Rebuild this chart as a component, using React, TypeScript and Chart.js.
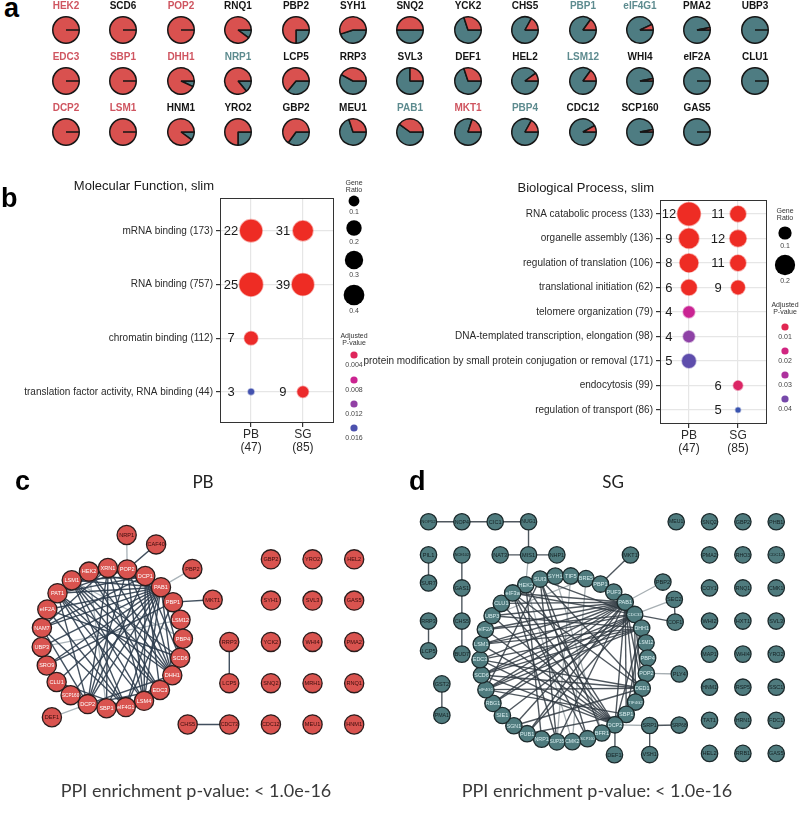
import React, { useEffect, useRef } from "react";
import { Chart, registerables } from "chart.js";

Chart.register(...registerables);

const SANS = "'Liberation Sans', Arial, Helvetica, sans-serif";
const CAP = "Lato, 'Open Sans', sans-serif";

/* ================= Panel a: PB / SG share pies ================= */
const pieGenes = [
  "HEK2", "SCD6", "POP2", "RNQ1", "PBP2", "SYH1", "SNQ2", "YCK2", "CHS5", "PBP1", "eIF4G1", "PMA2", "UBP3",
  "EDC3", "SBP1", "DHH1", "NRP1", "LCP5", "RRP3", "SVL3", "DEF1", "HEL2", "LSM12", "WHI4", "eIF2A", "CLU1",
  "DCP2", "LSM1", "HNM1", "YRO2", "GBP2", "MEU1", "PAB1", "MKT1", "PBP4", "CDC12", "SCP160", "GAS5",
];
const pieLabelGroup = [
  "PB", "both", "PB", "both", "both", "both", "both", "both", "both", "SG", "SG", "both", "both",
  "PB", "PB", "PB", "SG", "both", "both", "both", "both", "both", "SG", "both", "both", "both",
  "PB", "PB", "both", "both", "both", "both", "SG", "PB", "SG", "both", "both", "both",
];
const piePBShare = [
  1, 1, 1, 0.9, 0.75, 0.55, 0.5, 0.3, 0.17, 0.15, 0.07, 0.03, 0,
  1, 1, 0.93, 0.86, 0.64, 0.42, 0.25, 0.3, 0.1, 0.15, 0.03, 0, 0,
  1, 1, 0.9, 0.75, 0.65, 0.3, 0.4, 0.2, 0.17, 0.08, 0.03, 0,
];

const PIE_RED = "#d9514f";
const PIE_TEAL = "#4e7c82";
const LABEL_COLORS: Record<string, string> = { PB: "#cf5560", SG: "#5d8b8f", both: "#141414" };

/* ================= Panel b: GO slim dot plots ================= */
const groups = ["PB", "SG"];
const groupSizes = [47, 85];

const mfTerms = [
  "mRNA binding (173)",
  "RNA binding (757)",
  "chromatin binding (112)",
  "translation factor activity, RNA binding (44)",
];
const mfPBCounts = [22, 25, 7, 3];
const mfSGCounts = [31, 39, null, 9];
const mfPBPadj = [0.00001, 0.00001, 0.0004, 0.0165];
const mfSGPadj = [0.00001, 0.000001, null, 0.0006];
const mfSizeBreaks = [0.1, 0.2, 0.3, 0.4];
const mfPBreaks = [0.004, 0.008, 0.012, 0.016];

const bpTerms = [
  "RNA catabolic process (133)",
  "organelle assembly (136)",
  "regulation of translation (106)",
  "translational initiation (62)",
  "telomere organization (79)",
  "DNA-templated transcription, elongation (98)",
  "protein modification by small protein conjugation or removal (171)",
  "endocytosis (99)",
  "regulation of transport (86)",
];
const bpPBCounts = [12, 9, 8, 6, 4, 4, 5, null, null];
const bpSGCounts = [11, 12, 11, 9, null, null, null, 6, 5];
const bpPBPadj = [0.00001, 0.00001, 0.00002, 0.0002, 0.024, 0.036, 0.044, null, null];
const bpSGPadj = [0.0001, 0.0001, 0.0002, 0.0003, null, null, null, 0.014, 0.05];
const bpSizeBreaks = [0.1, 0.2];
const bpPBreaks = [0.01, 0.02, 0.03, 0.04];

/* ================= Panels c / d: PPI networks ================= */
const pbRing = [
  "HEK2", "XRN1", "POP2", "DCP1", "PAB1", "PBP1", "LSM12", "PBP4", "SCD6", "DHH1", "EDC3", "LSM4",
  "eIF4G1", "SBP1", "DCP2", "SCP160", "CLU1", "SRO9", "UBP3", "NAM7", "eIF2A", "PAT1", "LSM1",
];
// [name, angle (deg), distance in ring radii]
const pbSatellites: [string, number, number][] = [
  ["NRP1", -82, 1.48], ["CAF40", -65, 1.47], ["PBP2", -41, 1.5], ["MKT1", -21, 1.52], ["DEF1", 127, 1.41],
];
// [name, column, row]
const pbGrid: [string, number, number][] = [
  ["RRP3", 0, 2], ["LCP5", 0, 3], ["CHS5", -1, 4], ["CDC73", 0, 4],
  ["GBP2", 1, 0], ["SYH1", 1, 1], ["YCK2", 1, 2], ["SNQ2", 1, 3], ["CDC12", 1, 4],
  ["YRO2", 2, 0], ["SVL3", 2, 1], ["WHI4", 2, 2], ["MRH1", 2, 3], ["MEU1", 2, 4],
  ["HEL2", 3, 0], ["GAS5", 3, 1], ["PMA2", 3, 2], ["RNQ1", 3, 3], ["HNM1", 3, 4],
];
const pbEdgesDark: [string, string][] = [
  ["PAB1", "LSM1"], ["PAB1", "PAT1"], ["PAB1", "eIF2A"], ["PAB1", "NAM7"], ["PAB1", "UBP3"], ["PAB1", "SRO9"],
  ["PAB1", "CLU1"], ["PAB1", "SCP160"], ["PAB1", "DCP2"], ["PAB1", "SBP1"], ["PAB1", "eIF4G1"], ["PAB1", "LSM4"],
  ["PAB1", "HEK2"], ["PAB1", "XRN1"], ["PAB1", "DHH1"], ["PAB1", "LSM12"], ["PAB1", "SCD6"],
  ["DCP1", "EDC3"], ["DCP1", "DHH1"], ["DCP1", "LSM4"], ["DCP1", "PAT1"], ["DCP1", "LSM1"], ["DCP1", "DCP2"],
  ["DCP1", "SCD6"], ["DCP1", "NAM7"],
  ["DHH1", "PAT1"], ["DHH1", "LSM1"], ["DHH1", "DCP2"], ["DHH1", "XRN1"], ["DHH1", "eIF4G1"], ["DHH1", "POP2"], ["DHH1", "HEK2"],
  ["EDC3", "LSM1"], ["EDC3", "PAT1"], ["EDC3", "DCP2"], ["EDC3", "HEK2"],
  ["PAT1", "LSM4"], ["PAT1", "DCP2"], ["PAT1", "XRN1"], ["PAT1", "POP2"], ["PAT1", "eIF4G1"],
  ["XRN1", "DCP2"], ["XRN1", "NAM7"], ["XRN1", "LSM4"], ["XRN1", "SBP1"],
  ["POP2", "DCP2"], ["POP2", "LSM4"],
  ["eIF4G1", "eIF2A"], ["eIF4G1", "NAM7"], ["eIF4G1", "PBP1"], ["eIF4G1", "CLU1"], ["eIF4G1", "LSM1"],
  ["LSM1", "LSM4"], ["LSM1", "SCD6"], ["NAM7", "DCP2"], ["NAM7", "UBP3"], ["SCD6", "eIF2A"], ["PBP1", "SRO9"],
  ["CAF40", "POP2"], ["MKT1", "PBP1"], ["RRP3", "LCP5"], ["CHS5", "CDC73"],
];
const pbEdgesLight: [string, string][] = [
  ["NRP1", "POP2"], ["PBP2", "PAB1"], ["DEF1", "DCP2"], ["LSM12", "UBP3"], ["HEK2", "SBP1"], ["PBP4", "LSM1"],
];

const sgRing = [
  "HEK2", "SUI3", "SYH1", "TIF5", "BRE5", "PBP1", "PUF3", "PAB1", "CDC33", "DHH1", "LSM12", "PBP4",
  "POP2", "DED1", "TIF4G2", "SBP1", "DCP2", "BFR1", "SCP160", "CMK2", "SUP35", "NRP1", "PUB1", "SGN1",
  "SIE1", "RBG1", "eIF4G1", "SCD6", "EDC3", "LSM1", "eIF2A", "UBP3", "CLU1", "eIF3a",
];
const sgSatellites: [string, number, number][] = [
  ["MKT1", -57.5, 1.48], ["PBP2", -38, 1.5], ["SEC2", -28.5, 1.5], ["COF1", -18.4, 1.4], ["PLY4", 7.5, 1.39],
  ["SRP1", 38, 1.3], ["SRP68", 30, 1.59], ["VSH1", 48.3, 1.54], ["DEF1", 62.3, 1.3],
];
const sgGridLeft: [string, number, number][] = [
  ["NOP12", 0, 0], ["NOP4", 1, 0], ["CIC1", 2, 0], ["NUG1", 3, 0],
  ["NAT3", 2.15, 1], ["MIS1", 3, 1], ["NHP1", 3.85, 1],
  ["PIL1", 0, 1], ["SUR7", 0, 1.85], ["NCE102", 1, 1], ["GAS1", 1, 2], ["CHS5", 1, 3], ["BUD7", 1, 4],
  ["RRP3", 0, 3], ["LCP5", 0, 3.9], ["GST2", 0.4, 4.9], ["PMA1", 0.4, 5.85],
];
const sgGridRight: [string, number, number][] = [
  ["MEU1", 0, 0], ["SNQ2", 1, 0], ["GBP2", 2, 0], ["PHB1", 3, 0],
  ["PMA2", 1, 1], ["RHO3", 2, 1], ["CDC12", 3, 1],
  ["COY1", 1, 2], ["RNQ1", 2, 2], ["CMK1", 3, 2],
  ["WHI2", 1, 3], ["HXT1", 2, 3], ["SVL3", 3, 3],
  ["MAP1", 1, 4], ["WHI4", 2, 4], ["YRO2", 3, 4],
  ["HNM1", 1, 5], ["RSP5", 2, 5], ["SSC1", 3, 5],
  ["TAT1", 1, 6], ["HRN1", 2, 6], ["FDC1", 3, 6],
  ["HEL2", 1, 7], ["RRB1", 2, 7], ["GAS5", 3, 7],
];
const sgEdgesDark: [string, string][] = [
  ["PAB1", "LSM1"], ["PAB1", "EDC3"], ["PAB1", "eIF4G1"], ["PAB1", "SCD6"], ["PAB1", "eIF2A"], ["PAB1", "UBP3"],
  ["PAB1", "CLU1"], ["PAB1", "eIF3a"], ["PAB1", "RBG1"], ["PAB1", "SGN1"], ["PAB1", "PUB1"], ["PAB1", "SUP35"],
  ["PAB1", "SBP1"], ["PAB1", "DED1"], ["PAB1", "TIF4G2"], ["PAB1", "DCP2"],
  ["CDC33", "LSM1"], ["CDC33", "eIF4G1"], ["CDC33", "eIF2A"], ["CDC33", "SCD6"], ["CDC33", "RBG1"], ["CDC33", "SIE1"],
  ["CDC33", "TIF4G2"], ["CDC33", "DED1"], ["CDC33", "eIF3a"], ["CDC33", "SUI3"], ["CDC33", "PUB1"],
  ["DHH1", "LSM1"], ["DHH1", "EDC3"], ["DHH1", "SCD6"], ["DHH1", "DCP2"], ["DHH1", "eIF4G1"], ["DHH1", "SBP1"], ["DHH1", "UBP3"],
  ["DED1", "eIF4G1"], ["DED1", "EDC3"], ["DED1", "SCD6"], ["DED1", "SUI3"], ["DED1", "eIF3a"], ["DED1", "SGN1"],
  ["DCP2", "UBP3"], ["DCP2", "CLU1"], ["DCP2", "HEK2"], ["DCP2", "eIF2A"], ["DCP2", "EDC3"], ["DCP2", "LSM1"],
  ["DCP2", "SCD6"], ["DCP2", "eIF3a"],
  ["SBP1", "eIF4G1"], ["SBP1", "PUB1"], ["SUI3", "SCP160"], ["SUI3", "BFR1"], ["SUI3", "SUP35"], ["SUI3", "eIF4G1"],
  ["eIF3a", "SCP160"], ["eIF3a", "SUP35"], ["HEK2", "NRP1"],
  ["NOP12", "NOP4"], ["NOP4", "CIC1"], ["CIC1", "NUG1"], ["NUG1", "MIS1"], ["NAT3", "MIS1"], ["MIS1", "NHP1"],
  ["PIL1", "SUR7"], ["NCE102", "GAS1"], ["GAS1", "CHS5"], ["CHS5", "BUD7"], ["RRP3", "LCP5"], ["GST2", "PMA1"],
  ["MKT1", "PBP1"], ["COF1", "CDC33"], ["SEC2", "COF1"], ["SRP1", "SRP68"], ["SRP1", "VSH1"], ["DEF1", "DCP2"],
];
const sgEdgesLight: [string, string][] = [
  ["MIS1", "HEK2"], ["PBP2", "PAB1"], ["SEC2", "CDC33"], ["PLY4", "POP2"], ["SRP1", "DCP2"],
  ["BRE5", "CMK2"], ["SYH1", "BFR1"], ["TIF5", "SUP35"], ["HEK2", "CMK2"], ["BRE5", "UBP3"],
];

/* ================= helpers ================= */
type TextItem = {
  text: string; x: number; y: number; font: string; color?: string;
  align?: CanvasTextAlign; baseline?: CanvasTextBaseline;
};

function drawTexts(ctx: CanvasRenderingContext2D, items: TextItem[]) {
  for (const t of items) {
    ctx.save();
    ctx.font = t.font;
    ctx.fillStyle = t.color || "#000";
    ctx.textAlign = t.align || "left";
    ctx.textBaseline = t.baseline || "alphabetic";
    ctx.fillText(t.text, t.x, t.y);
    ctx.restore();
  }
}

const P_STOPS: [number, number[]][] = [
  [0, [238, 44, 36]],
  [0.25, [222, 38, 94]],
  [0.5, [200, 36, 152]],
  [0.75, [134, 70, 168]],
  [1, [58, 84, 176]],
];
function pColor(p: number, pMax: number, alpha = 1) {
  const t = Math.max(0, Math.min(1, p / pMax));
  let k = 0;
  while (k < P_STOPS.length - 2 && t > P_STOPS[k + 1][0]) k++;
  const [t0, c0] = P_STOPS[k];
  const [t1, c1] = P_STOPS[k + 1];
  const f = (t - t0) / (t1 - t0);
  const c = c0.map((v, i) => Math.round(v + (c1[i] - v) * f));
  return `rgba(${c[0]},${c[1]},${c[2]},${alpha})`;
}

/* ================= components ================= */
function MiniPie({ gene, group, pb, left, top }: { gene: string; group: string; pb: number; left: number; top: number }) {
  const ref = useRef<HTMLCanvasElement>(null);
  useEffect(() => {
    const chart = new Chart(ref.current!, {
      type: "pie",
      data: {
        labels: ["SG", "PB"],
        datasets: [{
          data: [1 - pb, pb],
          backgroundColor: [PIE_TEAL, PIE_RED],
          borderColor: "#161616",
          borderWidth: 1.5,
        }],
      },
      options: {
        responsive: false,
        animation: false,
        events: [],
        rotation: 90,
        layout: { padding: 0 },
        plugins: {
          legend: { display: false },
          tooltip: { enabled: false },
          title: {
            display: true,
            text: gene,
            color: LABEL_COLORS[group],
            font: { family: SANS, size: 10, weight: "bold" },
            padding: { top: 0, bottom: 4 },
          },
        },
      },
    });
    return () => chart.destroy();
  }, [gene, group, pb]);
  return <canvas ref={ref} width={56} height={44} style={{ position: "absolute", left, top }} />;
}

type DotProps = {
  title: string; terms: string[];
  pbCounts: (number | null)[]; sgCounts: (number | null)[];
  pbPadj: (number | null)[]; sgPadj: (number | null)[];
  sizeBreaks: number[]; pBreaks: number[]; pMax: number; rRange: [number, number];
  left: number; top: number; width: number; height: number;
  yAxisWidth: number; padTop: number; padRight: number; xAxisHeight: number;
  xRange: [number, number]; yRange: [number, number]; titleY: number;
  legend: { dx: number; titleY: number; dotY: number[]; pTitleY: number; pDotY: number[] };
  texts?: TextItem[];
};

function DotPlot(props: DotProps) {
  const ref = useRef<HTMLCanvasElement>(null);
  useEffect(() => {
    const { terms, pbCounts, sgCounts, pbPadj, sgPadj, pMax, rRange } = props;
    const counts = [pbCounts, sgCounts];
    const padj = [pbPadj, sgPadj];
    const ratios: number[] = [];
    counts.forEach((arr, g) => arr.forEach((c) => { if (c != null) ratios.push(c / groupSizes[g]); }));
    const rMin = Math.min(...ratios);
    const rMax = Math.max(...ratios);
    const radius = (ratio: number) =>
      rRange[0] + (rRange[1] - rRange[0]) * Math.sqrt(Math.max(0, (ratio - rMin) / (rMax - rMin)));

    const datasets = groups.map((gname, g) => ({
      label: gname,
      data: terms
        .map((_, i) => counts[g][i] == null ? null : {
          x: g, y: i, r: radius((counts[g][i] as number) / groupSizes[g]),
          count: counts[g][i], p: padj[g][i],
        })
        .filter((d) => d !== null) as any[],
      backgroundColor: (ctx: any) => (ctx.raw ? pColor(ctx.raw.p, pMax) : "#000"),
      borderColor: (ctx: any) => (ctx.raw ? pColor(ctx.raw.p, pMax, 0.4) : "#000"),
      borderWidth: 1.6,
    }));

    const decor = {
      id: "dotDecor",
      afterDraw(chart: any) {
        const { ctx, chartArea: a } = chart;
        ctx.save();
        ctx.strokeStyle = "#333";
        ctx.lineWidth = 1;
        ctx.strokeRect(a.left + 0.5, a.top + 0.5, a.right - a.left - 1, a.bottom - a.top - 1);
        ctx.restore();
        // title
        drawTexts(ctx, [{
          text: props.title, x: a.left - 6, y: props.titleY, font: `13px ${SANS}`,
          color: "#1a1a1a", align: "right", baseline: "middle",
        }]);
        // counts next to dots
        chart.data.datasets.forEach((ds: any, di: number) => {
          const meta = chart.getDatasetMeta(di);
          meta.data.forEach((el: any, i: number) => {
            drawTexts(ctx, [{
              text: String(ds.data[i].count), x: el.x - 20, y: el.y + 0.5, font: `13px ${SANS}`,
              color: "#1a1a1a", align: "center", baseline: "middle",
            }]);
          });
        });
        // legend
        const L = props.legend;
        const lx = a.right + L.dx;
        const small = `7px ${SANS}`;
        drawTexts(ctx, [
          { text: "Gene", x: lx, y: a.top + L.titleY, font: small, color: "#333", align: "center", baseline: "middle" },
          { text: "Ratio", x: lx, y: a.top + L.titleY + 7, font: small, color: "#333", align: "center", baseline: "middle" },
          { text: "Adjusted", x: lx, y: a.top + L.pTitleY, font: small, color: "#333", align: "center", baseline: "middle" },
          { text: "P-value", x: lx, y: a.top + L.pTitleY + 7, font: small, color: "#333", align: "center", baseline: "middle" },
        ]);
        props.sizeBreaks.forEach((b, i) => {
          const r = radius(b);
          const y = a.top + L.dotY[i];
          ctx.save();
          ctx.fillStyle = "#000";
          ctx.beginPath();
          ctx.arc(lx, y, r, 0, Math.PI * 2);
          ctx.fill();
          ctx.restore();
          drawTexts(ctx, [{ text: String(b), x: lx, y: y + r + 6, font: small, color: "#444", align: "center", baseline: "middle" }]);
        });
        props.pBreaks.forEach((b, i) => {
          const y = a.top + L.pDotY[i];
          ctx.save();
          ctx.fillStyle = pColor(b, pMax);
          ctx.beginPath();
          ctx.arc(lx, y, 3.6, 0, Math.PI * 2);
          ctx.fill();
          ctx.restore();
          drawTexts(ctx, [{ text: String(b), x: lx, y: y + 10.5, font: small, color: "#444", align: "center", baseline: "middle" }]);
        });
        if (props.texts) drawTexts(ctx, props.texts);
      },
    };

    const chart = new Chart(ref.current!, {
      type: "bubble",
      data: { datasets },
      options: {
        responsive: false,
        animation: false,
        events: [],
        layout: { padding: { top: props.padTop, right: props.padRight, left: 0, bottom: 0 } },
        plugins: { legend: { display: false }, tooltip: { enabled: false } },
        scales: {
          x: {
            type: "linear",
            min: props.xRange[0],
            max: props.xRange[1],
            afterBuildTicks: (s: any) => { s.ticks = groups.map((_, i) => ({ value: i })); },
            afterFit: (s: any) => { s.height = props.xAxisHeight; },
            ticks: {
              autoSkip: false,
              maxRotation: 0,
              padding: 1,
              color: "#2a2a2a",
              font: { family: SANS, size: 12, lineHeight: 1.1 },
              callback: (v: any) => [groups[v], `(${groupSizes[v]})`],
            },
            grid: { color: "#e6e6e6", lineWidth: 1.2, tickColor: "#333", tickLength: 4, tickWidth: 1.2 },
            border: { display: false },
          },
          y: {
            type: "linear",
            reverse: true,
            min: props.yRange[0],
            max: props.yRange[1],
            afterBuildTicks: (s: any) => { s.ticks = props.terms.map((_, i) => ({ value: i })); },
            afterFit: (s: any) => { s.width = props.yAxisWidth; },
            ticks: {
              autoSkip: false,
              padding: 3,
              color: "#2a2a2a",
              font: { family: SANS, size: 10 },
              callback: (v: any) => props.terms[v],
            },
            grid: { color: "#e6e6e6", lineWidth: 1.2, tickColor: "#333", tickLength: 4, tickWidth: 1.2 },
            border: { display: false },
          },
        },
      },
      plugins: [decor],
    } as any);
    return () => chart.destroy();
  }, []);
  return (
    <canvas ref={ref} width={props.width} height={props.height}
      style={{ position: "absolute", left: props.left, top: props.top }} />
  );
}

type NetProps = {
  ring: string[]; ringStart: number;
  satellites: [string, number, number][];
  grids: { origin: [number, number]; step: number; nodes: [string, number, number][] }[];
  edgesDark: [string, string][]; edgesLight: [string, string][];
  left: number; top: number; width: number; height: number;
  center: [number, number]; unit: number; nodeR: number;
  fill: string; stroke: string; ringLabel: string; otherLabel: string;
  darkEdge: string; lightEdge: string;
  texts: TextItem[];
};

function Network(p: NetProps) {
  const ref = useRef<HTMLCanvasElement>(null);
  useEffect(() => {
    const pos: Record<string, { x: number; y: number; ring: boolean }> = {};
    const names: string[] = [];
    const n = p.ring.length;
    p.ring.forEach((name, i) => {
      const a = ((p.ringStart + (i * 360) / n) * Math.PI) / 180;
      pos[name] = { x: Math.cos(a), y: Math.sin(a), ring: true };
      names.push(name);
    });
    p.satellites.forEach(([name, deg, d]) => {
      const a = (deg * Math.PI) / 180;
      pos[name] = { x: d * Math.cos(a), y: d * Math.sin(a), ring: false };
      names.push(name);
    });
    p.grids.forEach((g) => g.nodes.forEach(([name, c, r]) => {
      pos[name] = { x: g.origin[0] + c * g.step, y: g.origin[1] + r * g.step, ring: false };
      names.push(name);
    }));

    const edgeSet = (list: [string, string][], color: string, width: number, order: number) =>
      list.filter(([a, b]) => pos[a] && pos[b]).map(([a, b]) => ({
        data: [{ x: pos[a].x, y: pos[a].y }, { x: pos[b].x, y: pos[b].y }],
        showLine: true,
        borderColor: color,
        borderWidth: width,
        pointRadius: 0,
        order,
      }));

    const datasets: any[] = [
      {
        data: names.map((nm) => ({ x: pos[nm].x, y: pos[nm].y })),
        pointRadius: p.nodeR,
        pointBackgroundColor: p.fill,
        pointBorderColor: p.stroke,
        pointBorderWidth: 1.3,
        order: 0,
      },
      ...edgeSet(p.edgesDark, p.darkEdge, 1.4, 1),
      ...edgeSet(p.edgesLight, p.lightEdge, 1.3, 2),
    ];

    const labels = {
      id: "nodeLabels",
      afterDatasetsDraw(chart: any) {
        const ctx = chart.ctx;
        const meta = chart.getDatasetMeta(0);
        meta.data.forEach((el: any, i: number) => {
          const nm = names[i];
          ctx.save();
          let fs = 5.6;
          ctx.font = `${fs}px ${SANS}`;
          const w = ctx.measureText(nm).width;
          const maxW = p.nodeR * 2 - 2;
          if (w > maxW) { fs = (fs * maxW) / w; ctx.font = `${fs}px ${SANS}`; }
          ctx.fillStyle = pos[nm].ring ? p.ringLabel : p.otherLabel;
          ctx.textAlign = "center";
          ctx.textBaseline = "middle";
          ctx.fillText(nm, el.x, el.y + 0.3);
          ctx.restore();
        });
      },
      afterDraw(chart: any) {
        drawTexts(chart.ctx, p.texts);
      },
    };

    const [cx, cy] = p.center;
    const chart = new Chart(ref.current!, {
      type: "scatter",
      data: { datasets },
      options: {
        responsive: false,
        animation: false,
        events: [],
        layout: { padding: 0 },
        plugins: { legend: { display: false }, tooltip: { enabled: false } },
        scales: {
          x: { type: "linear", display: false, min: -cx / p.unit, max: (p.width - cx) / p.unit },
          y: { type: "linear", display: false, reverse: true, min: -cy / p.unit, max: (p.height - cy) / p.unit },
        },
      },
      plugins: [labels],
    } as any);
    return () => chart.destroy();
  }, []);
  return <canvas ref={ref} width={p.width} height={p.height} style={{ position: "absolute", left: p.left, top: p.top }} />;
}

export default function App() {
  const perRow = 13;
  return (
    <div style={{ position: "absolute", left: 0, top: 0, width: 800, height: 814, background: "#fff", overflow: "hidden" }}>
      <div style={{ position: "absolute", left: 4, top: -5, font: `bold 27px/27px ${SANS}`, color: "#000" }}>a</div>
      {pieGenes.map((g, i) => {
        const row = Math.floor(i / perRow);
        const col = i % perRow;
        return (
          <MiniPie key={g + i} gene={g} group={pieLabelGroup[i]} pb={piePBShare[i]}
            left={Math.round(66 + col * 57.4 - 28)} top={row * 51} />
        );
      })}

      <DotPlot
        title="Molecular Function, slim" terms={mfTerms}
        pbCounts={mfPBCounts} sgCounts={mfSGCounts} pbPadj={mfPBPadj} sgPadj={mfSGPadj}
        sizeBreaks={mfSizeBreaks} pBreaks={mfPBreaks} pMax={0.017} rRange={[3, 11.7]}
        left={0} top={160} width={400} height={300}
        yAxisWidth={220} padTop={38} padRight={66} xAxisHeight={37}
        xRange={[-0.6, 1.6]} yRange={[-0.61, 3.58]} titleY={26}
        legend={{ dx: 20, titleY: -15, dotY: [3, 30, 62, 97], pTitleY: 138, pDotY: [157, 182, 206, 230] }}
        texts={[{ text: "b", x: 1, y: 47, font: `bold 27px ${SANS}`, color: "#000" }]}
      />
      <DotPlot
        title="Biological Process, slim" terms={bpTerms}
        pbCounts={bpPBCounts} sgCounts={bpSGCounts} pbPadj={bpPBPadj} sgPadj={bpSGPadj}
        sizeBreaks={bpSizeBreaks} pBreaks={bpPBreaks} pMax={0.05} rRange={[2.5, 11.5]}
        left={340} top={160} width={460} height={300}
        yAxisWidth={320} padTop={40} padRight={33} xAxisHeight={36}
        xRange={[-0.59, 1.59]} yRange={[-0.57, 8.57]} titleY={28}
        legend={{ dx: 18, titleY: 11, dotY: [33, 65], pTitleY: 105, pDotY: [127, 151, 175, 199] }}
      />

      <Network
        ring={pbRing} ringStart={-109} satellites={pbSatellites}
        grids={[{ origin: [1.653, -1.12], step: 0.587, nodes: pbGrid }]}
        edgesDark={pbEdgesDark} edgesLight={pbEdgesLight}
        left={0} top={465} width={400} height={349} center={[107, 173]} unit={75} nodeR={9.6}
        fill="#d9534f" stroke="#2a1c1c" ringLabel="#ffffff" otherLabel="#3a0c0c"
        darkEdge="rgba(44,60,76,0.9)" lightEdge="#a9b3b9"
        texts={[
          { text: "c", x: 15, y: 25, font: `bold 27px ${SANS}`, color: "#000" },
          { text: "PB", x: 203, y: 23, font: `17px ${CAP}`, color: "#222", align: "center" },
          { text: "PPI enrichment p-value: < 1.0e-16", x: 196, y: 332, font: `18px ${CAP}`, color: "#3a3a3a", align: "center" },
        ]}
      />
      <Network
        ring={sgRing} ringStart={-117} satellites={sgSatellites}
        grids={[
          { origin: [-1.614, -1.648], step: 0.3977, nodes: sgGridLeft },
          { origin: [1.341, -1.648], step: 0.3977, nodes: sgGridRight },
        ]}
        edgesDark={sgEdgesDark} edgesLight={sgEdgesLight}
        left={400} top={465} width={400} height={349} center={[162, 195]} unit={88} nodeR={8.2}
        fill="#4f7b7e" stroke="#1c2a2c" ringLabel="#d9eef0" otherLabel="#142022"
        darkEdge="rgba(48,58,66,0.85)" lightEdge="#a7afb3"
        texts={[
          { text: "d", x: 9, y: 25, font: `bold 27px ${SANS}`, color: "#000" },
          { text: "SG", x: 213, y: 23, font: `17px ${CAP}`, color: "#222", align: "center" },
          { text: "PPI enrichment p-value: < 1.0e-16", x: 197, y: 332, font: `18px ${CAP}`, color: "#3a3a3a", align: "center" },
        ]}
      />
    </div>
  );
}
